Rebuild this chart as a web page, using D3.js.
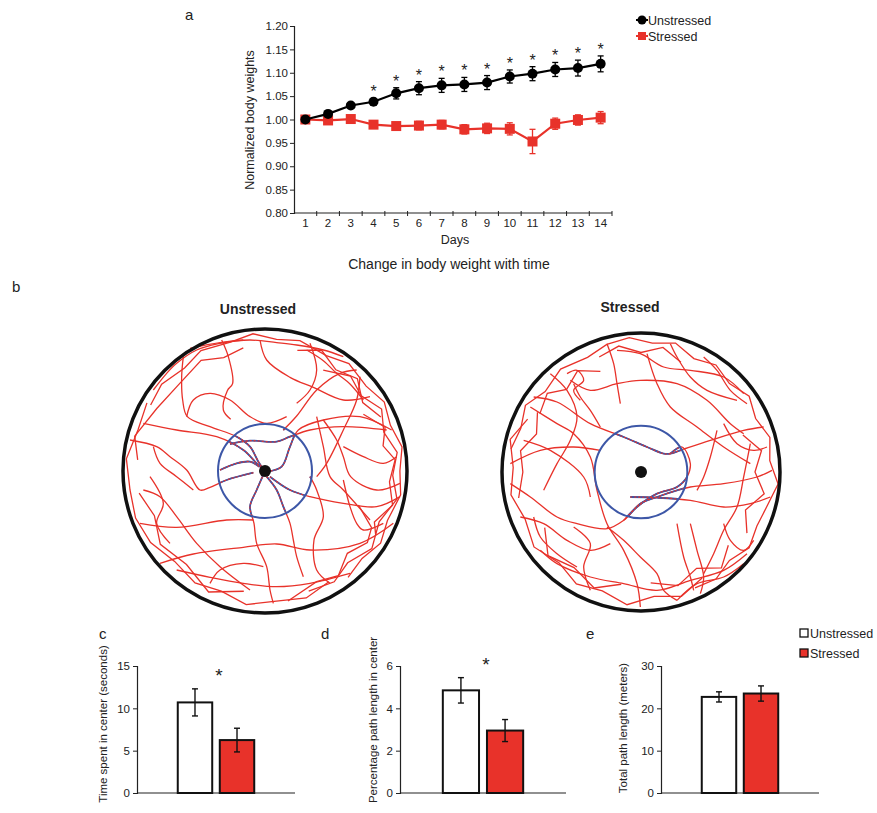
<!DOCTYPE html>
<html>
<head>
<meta charset="utf-8">
<script src="https://cdn.jsdelivr.net/npm/d3@7/dist/d3.min.js"></script>
<style>
  body { margin: 0; background: #fff; }
  text { font-family: "Liberation Sans", Arial, sans-serif; fill: #222; }
</style>
</head>
<body>
<svg id="fig" width="877" height="813"></svg>
<script>
// ---------- data ----------
// panel a : body weight over 14 days
const days = [1, 2, 3, 4, 5, 6, 7, 8, 9, 10, 11, 12, 13, 14];
const unstressedWeight = [1.000, 1.012, 1.030, 1.038, 1.056, 1.067, 1.073, 1.075, 1.079, 1.092, 1.098, 1.107, 1.110, 1.119];
const unstressedErr    = [0.003, 0.004, 0.005, 0.007, 0.012, 0.014, 0.015, 0.015, 0.015, 0.014, 0.015, 0.015, 0.017, 0.017];
const stressedWeight   = [1.000, 0.998, 1.001, 0.989, 0.986, 0.987, 0.989, 0.979, 0.981, 0.980, 0.953, 0.991, 0.999, 1.004];
const stressedErr      = [0.004, 0.005, 0.005, 0.006, 0.007, 0.009, 0.009, 0.010, 0.011, 0.013, 0.026, 0.012, 0.011, 0.013];
const sigDays = [4, 5, 6, 7, 8, 9, 10, 11, 12, 13, 14];
const weightTicks = [0.80, 0.85, 0.90, 0.95, 1.00, 1.05, 1.10, 1.15, 1.20];

// panels c-e : open field measures
const groups = ["Unstressed", "Stressed"];
const centerTime = [10.7, 6.25];
const centerTimeErr = [1.6, 1.4];
const centerPathPct = [4.85, 2.95];
const centerPathErr = [0.6, 0.52];
const totalPath = [22.7, 23.5];
const totalPathErr = [1.2, 1.8];

// panel b : tracked positions, camera pixels (arena centre / radius below)
const unstressedArena = { cx: 465, cy: 543, r: 426, centerR: 141 };
const stressedArena   = { cx: 452, cy: 545, r: 417, centerR: 139 };

const unstressedTracks = [
  [[130,300],[170,250],[200,220],[260,180],[330,160],[400,150]],
  [[240,175],[330,158],[420,150],[500,158],[560,165],[640,180],[700,200]],
  [[220,200],[215,260],[218,330],[232,380],[300,410],[380,440],[420,470],[445,515],[462,540]],
  [[335,150],[355,200],[368,280],[352,302],[340,360],[362,388]],
  [[450,150],[470,210],[540,262],[610,292],[700,330],[780,320]],
  [[100,400],[200,420],[320,440],[400,480],[440,520],[464,543]],
  [[60,450],[140,470],[180,500],[230,540],[270,600],[300,592],[350,570],[430,548]],
  [[470,545],[515,530],[540,470],[565,420],[640,390],[750,380],[845,420]],
  [[520,420],[560,378],[620,300],[690,250],[740,240]],
  [[360,462],[420,452],[500,455],[540,440],[600,420],[700,410],[830,420]],
  [[462,550],[440,600],[420,650],[432,700],[440,760],[470,830],[480,900],[490,940]],
  [[470,560],[500,600],[520,650],[540,700],[550,750],[560,800],[580,860]],
  [[480,560],[540,600],[600,620],[700,640],[800,650],[870,620]],
  [[90,700],[200,712],[350,690],[430,690]],
  [[150,820],[250,792],[400,772],[500,762],[600,780],[750,760],[850,700]],
  [[100,600],[150,620],[200,680],[260,760],[330,830],[420,900]],
  [[600,560],[620,600],[640,680],[612,750],[620,840],[660,880]],
  [[700,570],[720,650],[740,700],[760,720],[820,700]],
  [[200,840],[300,862],[400,880],[500,890],[600,880],[720,850]],
  [[640,390],[680,450],[700,500],[722,560],[800,600],[870,580]],
  [[590,180],[640,212],[680,250],[720,282],[760,330]],
  [[750,260],[740,330],[700,420],[650,520],[620,560]],
  [[130,470],[150,520],[200,560],[250,600]],
  [[330,540],[380,520],[420,515],[448,530]],
  [[230,380],[250,330],[300,310],[360,330],[420,380],[470,400],[530,380]],
  [[620,380],[640,470],[660,560],[700,600],[780,690]],
  [[120,560],[160,640],[140,700],[180,760]],
  [[600,160],[620,240],[600,300],[560,340]],
  [[700,470],[760,500],[820,520],[860,500]],
  [[300,880],[330,840],[400,820],[460,830]]
];
// wall hugging runs as [angle in degrees, fraction of arena radius]
const unstressedWall = [
  [[-150,0.93],[-140,0.95],[-128,0.92],[-118,0.96],[-105,0.94],[-95,0.97],[-85,0.93],[-75,0.95],[-62,0.92],[-52,0.96],[-40,0.93],[-30,0.97],[-20,0.94],[-10,0.98],[0,0.95],[10,0.97],[22,0.93],[32,0.96],[42,0.92],[52,0.95]],
  [[-60,0.82],[-48,0.9],[-38,0.86],[-28,0.93],[-18,0.88],[-8,0.94],[2,0.9],[12,0.95],[24,0.88],[36,0.93],[48,0.87],[58,0.92],[70,0.9]],
  [[60,0.9],[72,0.94],[85,0.92],[98,0.95],[110,0.9],[122,0.93],[135,0.9],[148,0.95],[160,0.97],[172,0.96],[185,0.98],[198,0.94],[210,0.96]],
  [[-175,0.9],[-165,0.95],[-150,0.88],[-135,0.86],[-120,0.9],[-110,0.85],[-100,0.88]],
  [[-30,0.8],[-20,0.9],[-12,0.85],[-5,0.92],[5,0.88],[15,0.93],[25,0.85],[30,0.9]],
  [[20,0.7],[28,0.85],[35,0.88],[45,0.82],[55,0.9],[65,0.86],[80,0.93]],
  [[-75,0.88],[-65,0.94],[-55,0.87],[-45,0.92],[-35,0.84],[-25,0.9]],
  [[100,0.86],[115,0.94],[130,0.86],[145,0.9],[158,0.84],[170,0.9]]
];

const stressedTracks = [
  [[350,160],[370,220],[380,280],[390,340]],
  [[130,320],[200,335],[300,400],[400,440],[470,470],[520,490],[540,490],[570,480],[660,450],[760,420],[820,410]],
  [[60,520],[150,480],[250,470],[330,480]],
  [[240,270],[300,300],[380,280],[450,270],[560,280],[650,330],[720,400],[760,430]],
  [[120,350],[200,400],[250,430],[300,500],[320,600],[350,700],[400,780],[440,880],[450,950]],
  [[60,580],[120,620],[200,680],[260,700],[350,715],[400,690],[450,640],[500,620],[560,600],[600,590],[700,580],[800,560],[845,540]],
  [[250,710],[300,760],[280,830],[300,900]],
  [[350,710],[400,750],[450,800],[500,850],[520,900],[560,930]],
  [[420,620],[500,622],[600,630],[700,650],[780,640],[840,620]],
  [[540,160],[560,200],[600,260],[650,300],[740,330]],
  [[380,180],[450,190],[520,230],[600,240],[700,260],[760,310]],
  [[600,700],[620,780],[640,860],[630,910]],
  [[700,700],[720,750],[760,780],[790,750]],
  [[150,780],[200,820],[300,860],[400,880],[500,900],[600,870],[700,840],[770,790]],
  [[560,700],[580,800],[600,860],[610,900]],
  [[250,280],[270,320],[300,360],[330,410]],
  [[680,420],[660,500],[640,560],[620,600]],
  [[780,460],[760,560],[740,650],[700,720],[670,790],[640,850]],
  [[100,450],[180,480],[280,560],[300,620]],
  [[540,490],[575,470],[600,520],[590,560],[560,590],[500,610],[440,650],[400,690]],
  [[180,250],[230,300],[260,380],[240,450],[200,520],[160,600]],
  [[470,190],[500,280],[540,350],[620,410],[700,470],[780,520]],
  [[90,680],[160,700],[230,750],[300,780],[360,760]],
  [[560,930],[620,880],[700,860],[760,820]],
  [[230,250],[260,240],[280,270],[250,300],[270,330]],
  [[700,400],[740,460],[790,480],[830,470]],
  [[130,680],[150,740],[200,790],[260,830]],
  [[640,200],[680,240],[720,300],[770,340]]
];
const stressedWall = [
  [[-170,0.95],[-160,0.92],[-150,0.96],[-140,0.9],[-128,0.94],[-115,0.91],[-105,0.95],[-95,0.97],[-85,0.93],[-75,0.96],[-65,0.9],[-55,0.94],[-45,0.9],[-35,0.95],[-25,0.91],[-15,0.96],[-5,0.93],[5,0.99],[15,0.94],[25,0.92],[35,0.95],[45,0.9],[55,0.94],[65,0.92]],
  [[60,0.88],[72,0.94],[84,0.9],[96,0.96],[108,0.9],[120,0.93],[132,0.88],[145,0.94],[158,0.9],[170,0.95],[182,0.92],[194,0.97],[205,0.9]],
  [[-110,0.88],[-100,0.92],[-90,0.86],[-80,0.91],[-70,0.84]],
  [[-20,0.78],[-10,0.88],[0,0.82],[10,0.9],[20,0.8],[30,0.88]],
  [[100,0.82],[112,0.9],[125,0.84],[138,0.9],[150,0.8]],
  [[168,0.9],[180,0.85],[190,0.88],[200,0.8],[210,0.86]],
  [[-150,0.84],[-140,0.88],[-132,0.8],[-122,0.86],[-112,0.78]],
  [[40,0.82],[50,0.9],[60,0.8],[72,0.86],[85,0.8]]
];

// ---------- drawing ----------
const RED = "#e8322a";
const BLUE = "#3d57a7";
const svg = d3.select("#fig");

function styleAxis(g, size) {
  g.select(".domain").attr("stroke", "#222").attr("stroke-width", 1.2);
  g.selectAll(".tick line").attr("stroke", "#222");
  g.selectAll(".tick text").attr("font-size", size).attr("fill", "#222")
    .attr("font-family", "Liberation Sans, Arial, sans-serif");
}

// ===== panel a =====
const pa = svg.append("g");
pa.append("text").attr("x", 185).attr("y", 20).attr("font-size", 15).text("a");

const x = d3.scaleBand().domain(days).range([294, 612]);
const y = d3.scaleLinear().domain([0.8, 1.2]).range([213, 26]);
const xc = d => x(d) + x.bandwidth() / 2;

pa.append("g").attr("transform", "translate(294,0)")
  .call(d3.axisLeft(y).tickValues(weightTicks).tickFormat(d3.format(".2f")).tickSize(4).tickPadding(2))
  .call(g => styleAxis(g, 11.5));

const xAxis = pa.append("g").attr("transform", "translate(0,213)")
  .call(d3.axisBottom(x).tickSize(0).tickPadding(6))
  .call(g => styleAxis(g, 11.5));
xAxis.select(".domain").attr("d", "M294,0H612");
xAxis.selectAll(".boundary").data(days).enter().append("line")
  .attr("x1", d => x(d) + x.bandwidth()).attr("x2", d => x(d) + x.bandwidth())
  .attr("y1", -2).attr("y2", 3).attr("stroke", "#222");

pa.append("text").attr("transform", "translate(254,120) rotate(-90)")
  .attr("text-anchor", "middle").attr("font-size", 12.5).text("Normalized body weights");
pa.append("text").attr("x", 455).attr("y", 244).attr("text-anchor", "middle")
  .attr("font-size", 12.5).text("Days");
pa.append("text").attr("x", 449).attr("y", 269).attr("text-anchor", "middle")
  .attr("font-size", 14).text("Change in body weight with time");

function series(vals, errs, color, shape) {
  const g = pa.append("g");
  g.append("path").datum(vals)
    .attr("fill", "none").attr("stroke", color).attr("stroke-width", 2.2)
    .attr("d", d3.line().x((v, i) => xc(days[i])).y(v => y(v)));
  const eb = g.selectAll(".eb").data(vals).enter().append("g");
  eb.append("line").attr("x1", (v, i) => xc(days[i])).attr("x2", (v, i) => xc(days[i]))
    .attr("y1", (v, i) => y(v + errs[i])).attr("y2", (v, i) => y(v - errs[i]))
    .attr("stroke", color).attr("stroke-width", 1.3);
  [1, -1].forEach(s => eb.append("line")
    .attr("x1", (v, i) => xc(days[i]) - 3).attr("x2", (v, i) => xc(days[i]) + 3)
    .attr("y1", (v, i) => y(v + s * errs[i])).attr("y2", (v, i) => y(v + s * errs[i]))
    .attr("stroke", color).attr("stroke-width", 1.3));
  if (shape === "circle") {
    g.selectAll(".m").data(vals).enter().append("circle")
      .attr("cx", (v, i) => xc(days[i])).attr("cy", v => y(v)).attr("r", 5).attr("fill", color);
  } else {
    g.selectAll(".m").data(vals).enter().append("rect")
      .attr("x", (v, i) => xc(days[i]) - 5).attr("y", v => y(v) - 5)
      .attr("width", 10).attr("height", 10).attr("fill", color);
  }
}
series(stressedWeight, stressedErr, RED, "square");
series(unstressedWeight, unstressedErr, "#000", "circle");

pa.selectAll(".star").data(sigDays).enter().append("text")
  .attr("x", d => xc(d))
  .attr("y", d => { const i = days.indexOf(d); return y(unstressedWeight[i] + unstressedErr[i]) - 1; })
  .attr("text-anchor", "middle").attr("font-size", 16).attr("fill", "#111").text("*");

// legend a
const la = pa.append("g").attr("transform", "translate(636,0)");
la.append("line").attr("x1", 0).attr("x2", 12).attr("y1", 20).attr("y2", 20).attr("stroke", "#000").attr("stroke-width", 2);
la.append("circle").attr("cx", 6).attr("cy", 20).attr("r", 4.5).attr("fill", "#000");
la.append("text").attr("x", 12).attr("y", 24.5).attr("font-size", 12.5).text("Unstressed");
la.append("line").attr("x1", 0).attr("x2", 12).attr("y1", 36).attr("y2", 36).attr("stroke", RED).attr("stroke-width", 2);
la.append("rect").attr("x", 2).attr("y", 32).attr("width", 8).attr("height", 8).attr("fill", RED);
la.append("text").attr("x", 12).attr("y", 40.5).attr("font-size", 12.5).text("Stressed");

// ===== panel b =====
svg.append("text").attr("x", 12).attr("y", 292).attr("font-size", 15).text("b");

function drawArena(id, title, arena, tracks, wall, cx, cy, r, titleX, titleY) {
  const g = svg.append("g");
  const sx = d3.scaleLinear().domain([arena.cx - arena.r, arena.cx + arena.r]).range([cx - r, cx + r]);
  const sy = d3.scaleLinear().domain([arena.cy - arena.r, arena.cy + arena.r]).range([cy - r, cy + r]);
  const polar = p => [arena.cx + Math.cos(p[0] * Math.PI / 180) * p[1] * arena.r,
                      arena.cy + Math.sin(p[0] * Math.PI / 180) * p[1] * arena.r];
  const smooth = d3.line().x(d => sx(d[0])).y(d => sy(d[1])).curve(d3.curveCatmullRom.alpha(0.5));
  const rough = d3.line().x(d => sx(d[0])).y(d => sy(d[1]));
  const wallPts = wall.map(w => w.map(polar));

  g.append("text").attr("x", titleX).attr("y", titleY).attr("text-anchor", "middle")
    .attr("font-size", 14).attr("font-weight", "bold").text(title);

  const drawAll = (sel, color, width, dash) => {
    sel.selectAll(".t").data(tracks).enter().append("path").attr("d", smooth)
      .attr("fill", "none").attr("stroke", color).attr("stroke-width", width).attr("stroke-dasharray", dash);
    sel.selectAll(".w").data(wallPts).enter().append("path").attr("d", rough)
      .attr("fill", "none").attr("stroke", color).attr("stroke-width", width).attr("stroke-dasharray", dash);
  };
  drawAll(g.append("g"), RED, 1.3, null);

  const innerR = sx(arena.cx + arena.centerR) - cx;
  g.append("clipPath").attr("id", id).append("circle").attr("cx", cx).attr("cy", cy).attr("r", innerR);
  const inner = g.append("g").attr("clip-path", `url(#${id})`);
  drawAll(inner, BLUE, 1.8, null);
  drawAll(inner, RED, 1.1, "2,2");

  g.append("circle").attr("cx", cx).attr("cy", cy).attr("r", innerR)
    .attr("fill", "none").attr("stroke", BLUE).attr("stroke-width", 2);
  g.append("circle").attr("cx", cx).attr("cy", cy).attr("r", r)
    .attr("fill", "none").attr("stroke", "#111").attr("stroke-width", 3.5);
  g.append("circle").attr("cx", cx).attr("cy", cy).attr("r", 6).attr("fill", "#111");
}
drawArena("clipU", "Unstressed", unstressedArena, unstressedTracks, unstressedWall, 265, 471, 142, 258, 314);
drawArena("clipS", "Stressed", stressedArena, stressedTracks, stressedWall, 641, 472, 139, 630, 312);

// ===== panels c, d, e =====
function barPanel(letter, letterX, x0, x1, maxV, ticks, vals, errs, label, labelX, labelY, star) {
  const g = svg.append("g");
  g.append("text").attr("x", letterX).attr("y", 639).attr("font-size", 15).text(letter);
  const bx = d3.scaleBand().domain(groups).range([x0, x1]).paddingInner(0.18).paddingOuter(0.97);
  const by = d3.scaleLinear().domain([0, maxV]).range([793, 666]);

  g.append("g").attr("transform", `translate(${x0},0)`)
    .call(d3.axisLeft(by).tickValues(ticks).tickFormat(d3.format("d")).tickSize(4).tickPadding(3))
    .call(a => styleAxis(a, 11.5));
  g.append("line").attr("x1", x0).attr("x2", x1).attr("y1", 793).attr("y2", 793)
    .attr("stroke", "#222").attr("stroke-width", 1.2);

  g.selectAll(".bar").data(vals).enter().append("rect")
    .attr("x", (v, i) => bx(groups[i])).attr("y", v => by(v))
    .attr("width", bx.bandwidth()).attr("height", v => 793 - by(v))
    .attr("fill", (v, i) => i === 0 ? "#fff" : RED)
    .attr("stroke", "#111").attr("stroke-width", 2);

  const mid = i => bx(groups[i]) + bx.bandwidth() / 2;
  const eb = g.selectAll(".eb").data(vals).enter().append("g");
  eb.append("line").attr("x1", (v, i) => mid(i)).attr("x2", (v, i) => mid(i))
    .attr("y1", (v, i) => by(v + errs[i])).attr("y2", (v, i) => by(v - errs[i]))
    .attr("stroke", "#111").attr("stroke-width", 1.4);
  [1, -1].forEach(s => eb.append("line")
    .attr("x1", (v, i) => mid(i) - 3).attr("x2", (v, i) => mid(i) + 3)
    .attr("y1", (v, i) => by(v + s * errs[i])).attr("y2", (v, i) => by(v + s * errs[i]))
    .attr("stroke", "#111").attr("stroke-width", 1.4));

  if (star) {
    const top = d3.max(vals, (v, i) => v + errs[i]);
    g.append("text").attr("x", (x0 + x1) / 2 + 3).attr("y", by(top) - 17 + 10)
      .attr("text-anchor", "middle").attr("font-size", 19).text("*");
  }
  g.append("text").attr("transform", `translate(${labelX},${labelY}) rotate(-90)`)
    .attr("text-anchor", "middle").attr("font-size", 11.5).text(label);
}
barPanel("c", 99, 137, 295, 15, [0, 5, 10, 15], centerTime, centerTimeErr, "Time spent in center (seconds)", 107, 724, true);
barPanel("d", 321, 400, 566, 6, [0, 2, 4, 6], centerPathPct, centerPathErr, "Percentage path length in center", 377, 720, true);
barPanel("e", 586, 661, 819, 30, [0, 10, 20, 30], totalPath, totalPathErr, "Total path length (meters)", 627, 728, false);

// legend e
const le = svg.append("g").attr("transform", "translate(800,0)");
groups.forEach((gname, i) => {
  le.append("rect").attr("x", 0).attr("y", 629 + i * 20).attr("width", 8).attr("height", 8)
    .attr("fill", i === 0 ? "#fff" : RED).attr("stroke", "#111").attr("stroke-width", 1.3);
  le.append("text").attr("x", 10).attr("y", 638 + i * 20).attr("font-size", 12.5).text(gname);
});
</script>
</body>
</html>
